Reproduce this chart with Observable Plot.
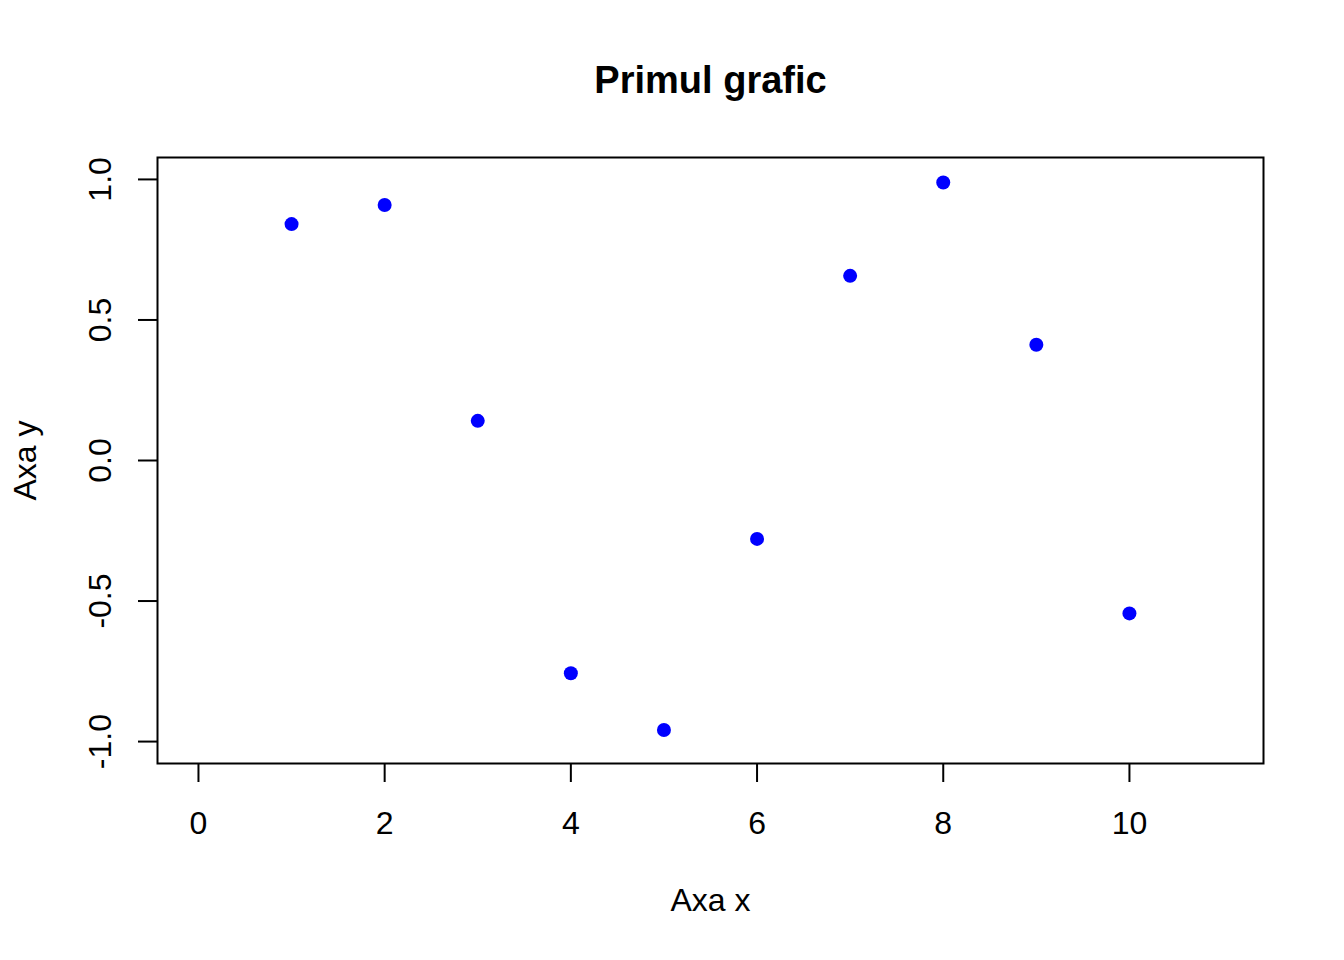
<!DOCTYPE html>
<html><head><meta charset="utf-8">
<script src="https://cdn.jsdelivr.net/npm/d3@7"></script>
<script src="https://cdn.jsdelivr.net/npm/@observablehq/plot@0.6"></script>
<style>body{margin:0;background:white;}</style>
</head><body><div id="chart"></div>
<script>
const xs = [1,2,3,4,5,6,7,8,9,10];
const ys = [0.841,0.909,0.141,-0.757,-0.959,-0.279,0.657,0.989,0.412,-0.544];
const xTicks = [0,2,4,6,8,10];
const yTicks = [-1.0,-0.5,0.0,0.5,1.0];
const title = "Primul grafic";
const xLabel = "Axa x";
const yLabel = "Axa y";
const data = xs.map((x,i)=>({x, y: ys[i]}));
const font = "'Liberation Sans', Arial, sans-serif";
const chart = Plot.plot({
  width: 1344, height: 960,
  marginLeft: 157, marginRight: 81, marginTop: 157, marginBottom: 197,
  style: {fontFamily: font, fontSize: "32px", background: "white", color: "black"},
  x: {domain: [-0.44, 11.44], axis: null},
  y: {domain: [-1.078, 1.078], axis: null},
  marks: [
    Plot.frame({stroke: "black", strokeWidth: 2}),
    Plot.axisX({ticks: xTicks, tickSize: 19, tickFormat: () => "", label: null, strokeWidth: 2}),
    Plot.axisY({ticks: yTicks, tickSize: 19, tickFormat: () => "", label: null, strokeWidth: 2}),
    Plot.text(xTicks, {x: d => d, frameAnchor: "bottom", dy: 60, lineAnchor: "middle", textAnchor: "middle", text: d => String(d), fontSize: 32}),
    Plot.text(yTicks, {y: d => d, frameAnchor: "left", dx: -57, rotate: -90, lineAnchor: "middle", textAnchor: "middle", text: d => d.toFixed(1), fontSize: 32}),
    Plot.dot(data, {x: "x", y: "y", r: 7, fill: "#0000ff", stroke: null}),
    Plot.text([title], {frameAnchor: "top", dy: -77, lineAnchor: "middle", textAnchor: "middle", text: d => d, fontWeight: "bold", fontSize: 38}),
    Plot.text([xLabel], {frameAnchor: "bottom", dy: 137, lineAnchor: "middle", textAnchor: "middle", text: d => d, fontSize: 32}),
    Plot.text([yLabel], {frameAnchor: "left", dx: -132, rotate: -90, lineAnchor: "middle", textAnchor: "middle", text: d => d, fontSize: 32})
  ]
});
document.getElementById("chart").appendChild(chart);
</script></body></html>
